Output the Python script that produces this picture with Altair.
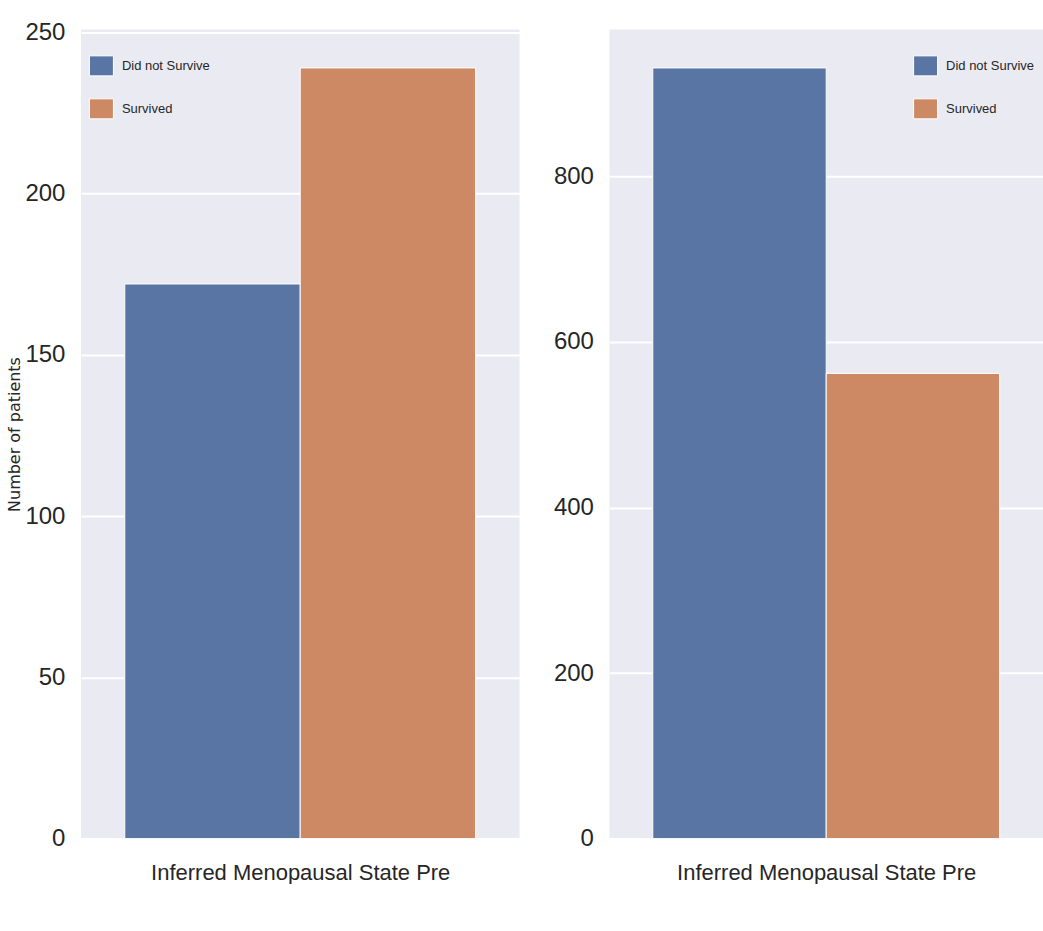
import altair as alt
import pandas as pd

# Survival counts per menopausal-state panel
status = ["Did not Survive", "Survived"]
left_counts = [172, 239]
right_counts = [931, 562]
x_titles = ["Inferred Menopausal State Pre", "Inferred Menopausal State Pre"]
y_title = "Number of patients"
left_ticks = [0, 50, 100, 150, 200, 250]
right_ticks = [0, 200, 400, 600, 800]
colors = ["#5975a4", "#cc8963"]

FONT = "Liberation Sans, Arial, sans-serif"
RECT = "M-1.2,-1L1.2,-1L1.2,1L-1.2,1Z"
TEXT = "#262626"


def panel(counts, ticks, x_title, width, legend_x, show_y_title):
    df = pd.DataFrame({"status": status, "count": counts})
    top = max(counts) * 1.05  # matplotlib-style 5% headroom
    y_axis_kwargs = dict(
        values=ticks,
        labelFont=FONT,
        labelFontSize=24,
        labelColor=TEXT,
        labelPadding=16,
        ticks=False,
        domain=False,
        grid=True,
        gridColor="white",
        gridWidth=2,
    )
    if show_y_title:
        y_axis_kwargs.update(
            title=y_title,
            titleFont="DejaVu Sans",
            titleFontSize=16,
            titleFontWeight="normal",
            titleColor=TEXT,
            titlePadding=2,
        )
    else:
        y_axis_kwargs.update(title=None)

    return (
        alt.Chart(df)
        .mark_bar(stroke="white", strokeWidth=1)
        .encode(
            x=alt.X(
                "status:N",
                sort=status,
                scale=alt.Scale(paddingInner=0, paddingOuter=0.25),
                axis=alt.Axis(
                    labels=False,
                    ticks=False,
                    domain=False,
                    grid=False,
                    title=x_title,
                    titleFont=FONT,
                    titleFontSize=22,
                    titleFontWeight="normal",
                    titleColor=TEXT,
                    titlePadding=24,
                ),
            ),
            y=alt.Y(
                "count:Q",
                scale=alt.Scale(domain=[0, top], nice=False, zero=True),
                axis=alt.Axis(**y_axis_kwargs),
            ),
            color=alt.Color(
                "status:N",
                sort=status,
                scale=alt.Scale(domain=status, range=colors),
                legend=alt.Legend(
                    title=None,
                    orient="none",
                    legendX=legend_x,
                    legendY=26,
                    symbolType=RECT,
                    symbolSize=400,
                    symbolStrokeColor="white",
                    symbolStrokeWidth=1,
                    symbolOpacity=1,
                    labelFont=FONT,
                    labelFontSize=13,
                    labelColor=TEXT,
                    labelOffset=10,
                    rowPadding=18,
                    padding=0,
                ),
            ),
        )
        .properties(width=width, height=810)
    )


left = panel(left_counts, left_ticks, x_titles[0], 439, 10, True)
right = panel(right_counts, right_ticks, x_titles[1], 434, 306, False)

chart = (
    alt.hconcat(left, right, spacing=33)
    .resolve_scale(y="independent", color="shared")
    .resolve_legend(color="independent")
    .properties(padding={"left": 6, "top": 20, "right": 0, "bottom": 0})
    .configure(background="white")
    .configure_view(strokeWidth=0, fill="#EAEAF2")
)

chart.save("out.html", embed_options={"renderer": "svg", "actions": False})
